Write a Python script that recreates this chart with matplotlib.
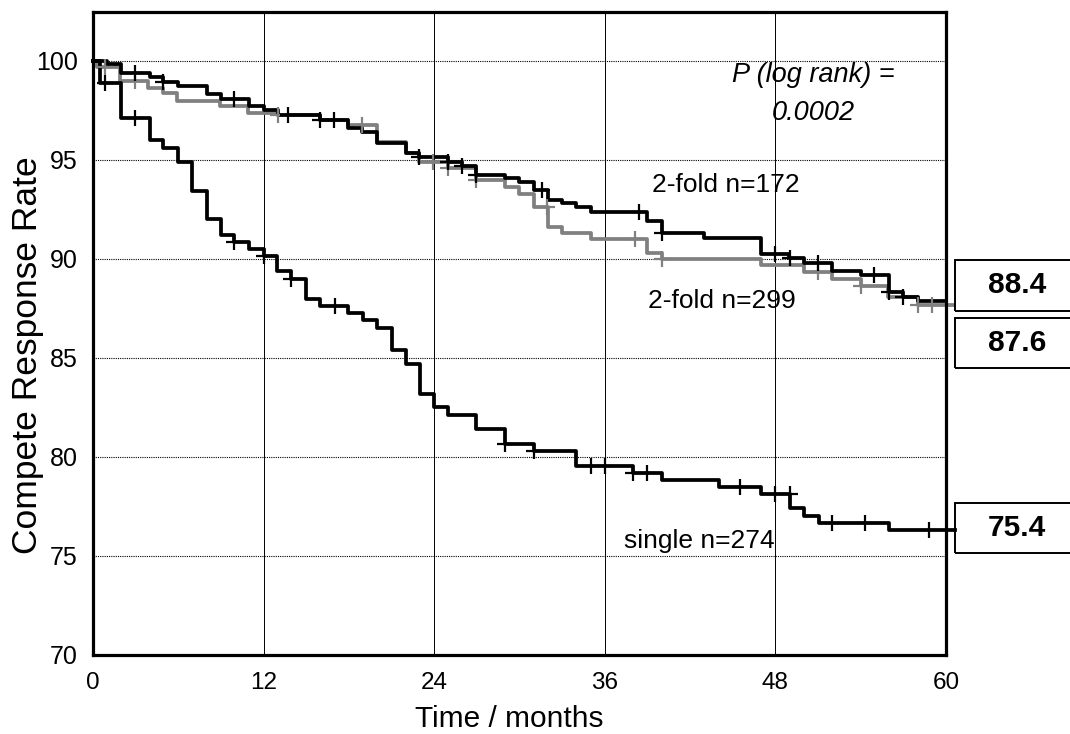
import matplotlib
matplotlib.use("Agg")
import matplotlib.pyplot as plt
import numpy as np
from matplotlib.patches import Rectangle

plt.rcParams['font.family'] = ['Liberation Sans', 'DejaVu Sans']

# Kaplan-Meier steps (time of drop, rate after drop)
single_t = [0, 0.5, 1.95, 4.0, 4.95, 6.0, 6.95, 8.0, 8.97, 9.9, 10.95, 12.0, 12.95, 13.96,
            14.95, 15.95, 17.94, 19.0, 19.98, 21.0, 22.0, 22.98, 23.96, 24.97, 26.96, 28.95,
            31.0, 34.0, 37.97, 40.03, 44.0, 47.0, 49.03, 50.0, 51.04, 56.0, 60.6]
single_s = [100, 98.9, 97.1, 96.0, 95.6, 94.9, 93.45, 92.0, 91.2, 90.87, 90.5, 90.17, 89.4, 89.0,
            87.96, 87.6, 87.26, 86.9, 86.5, 85.4, 84.7, 83.2, 82.5, 82.1, 81.4, 80.66,
            80.3, 79.55, 79.2, 78.84, 78.5, 78.13, 77.4, 77.0, 76.65, 76.3, 76.3]
single_cens = [0.85, 2.95, 9.9, 12.0, 13.96, 17.0, 28.95, 31.0, 35.0, 36.0, 38.0, 38.98,
               45.5, 48.0, 49.0, 52.0, 54.3, 58.8]

fold172_t = [0, 0.96, 2.0, 4.0, 4.94, 6.0, 8.0, 8.97, 10.96, 12.0, 13.0, 15.95, 17.94, 18.95,
             19.98, 22.0, 22.93, 24.97, 25.98, 26.96, 28.95, 29.96, 31.0, 32.0, 33.0, 34.0,
             35.0, 39.0, 40.03, 43.0, 47.0, 48.98, 50.0, 52.0, 54.0, 56.0, 57.0, 58.0, 60.0]
fold172_s = [100, 99.85, 99.4, 99.2, 98.96, 98.75, 98.33, 98.1, 97.7, 97.5, 97.27, 97.0, 96.6, 96.4,
             95.84, 95.34, 95.14, 94.9, 94.7, 94.24, 94.07, 93.9, 93.48, 93.0, 92.8, 92.6,
             92.38, 91.94, 91.32, 91.08, 90.27, 90.03, 89.8, 89.38, 89.2, 88.35, 88.1, 87.9, 87.9]
fold172_cens = [2.95, 4.94, 9.9, 13.7, 15.95, 16.96, 22.93, 24.97, 25.98, 26.96, 31.6, 38.4,
                40.03, 48.0, 49.0, 51.0, 54.95, 56.0, 57.0]

fold299_t = [0, 0.3, 1.9, 3.9, 4.94, 5.9, 8.9, 10.9, 13.0, 15.95, 17.94, 19.98, 22.0, 22.93,
             24.97, 26.96, 28.95, 29.96, 31.0, 32.0, 33.0, 35.0, 39.0, 40.03, 47.0, 50.0, 52.0,
             54.0, 55.9, 58.0, 60.5]
fold299_s = [100, 99.7, 99.0, 98.65, 98.37, 98.0, 97.7, 97.35, 97.25, 97.0, 96.75, 95.9, 95.34, 94.9,
             94.58, 93.99, 93.65, 93.28, 92.64, 91.63, 91.3, 91.0, 90.3, 90.0, 89.67, 89.35, 89.0,
             88.64, 88.1, 87.65, 87.65]
fold299_cens = [0.85, 2.95, 13.0, 18.95, 23.9, 25.0, 26.96, 31.9, 38.1, 40.03, 51.0, 54.0,
                58.0, 59.0]

end_labels = ['88.4', '87.6', '75.4']
xticks = [0, 12, 24, 36, 48, 60]
yticks = [70, 75, 80, 85, 90, 95, 100]


def step_at(t, s, x):
    idx = np.searchsorted(t, x, side='right') - 1
    return np.asarray(s)[idx]


fig = plt.figure(figsize=(10.7, 7.34), dpi=100)
ax = fig.add_axes([93 / 1070, 1 - 655 / 734, (946 - 93) / 1070, (655 - 12) / 734])

for y in yticks[1:]:
    ax.axhline(y, color='k', lw=0.8, ls=(0, (1, 1)), zorder=1)
for x in xticks[1:-1]:
    ax.axvline(x, color='k', lw=0.7, zorder=1)

curves = [(fold299_t, fold299_s, fold299_cens, '#808080'),
          (fold172_t, fold172_s, fold172_cens, 'black'),
          (single_t, single_s, single_cens, 'black')]
for t, s, cens, col in curves:
    ax.step(t, s, where='post', color=col, lw=2.7, clip_on=False, zorder=3)
    ax.plot(cens, step_at(t, s, cens), ls='none', marker='+', ms=12, mew=1.6,
            color=col, clip_on=False, zorder=4)

ax.set_xlim(0, 60)
ax.set_ylim(70, 102.47)
ax.set_xticks(xticks)
ax.set_yticks(yticks)
ax.tick_params(axis='both', length=0)
ax.tick_params(axis='y', labelsize=18, pad=11)
ax.tick_params(axis='x', labelsize=17.5, pad=12)
for sp in ax.spines.values():
    sp.set_linewidth(2.3)
    sp.set_zorder(5)

ax.set_xlabel('Time / months', fontsize=21.5)
ax.xaxis.set_label_coords(0.4877, -0.077)
ax.set_ylabel('Compete Response Rate', fontsize=25.5)
ax.yaxis.set_label_coords(-0.058, 0.466)

ax.text(50.7, 98.96, 'P (log rank) =', fontsize=19.5, style='italic', ha='center', va='baseline')
ax.text(50.7, 97.0, '0.0002', fontsize=19.5, style='italic', ha='center', va='baseline')
ax.text(44.5, 93.38, '2-fold n=172', fontsize=19, ha='center', va='baseline')
ax.text(44.2, 87.53, '2-fold n=299', fontsize=19, ha='center', va='baseline')
ax.text(42.65, 75.39, 'single n=274', fontsize=19, ha='center', va='baseline')

# value boxes at the right edge
boxes = [(260, 311), (318, 368), (503, 553)]
for (top, bot), lab in zip(boxes, end_labels):
    y0 = 1 - bot / 734
    h = (bot - top) / 734
    fig.patches.append(Rectangle((955 / 1070, y0), 0.2, h, transform=fig.transFigure,
                                 fill=False, ec='black', lw=1.4))
    fig.text(1017 / 1070, y0 + h / 2, lab, fontsize=21.5, fontweight='bold',
             ha='center', va='center')

fig.savefig('out.png', dpi=100)
